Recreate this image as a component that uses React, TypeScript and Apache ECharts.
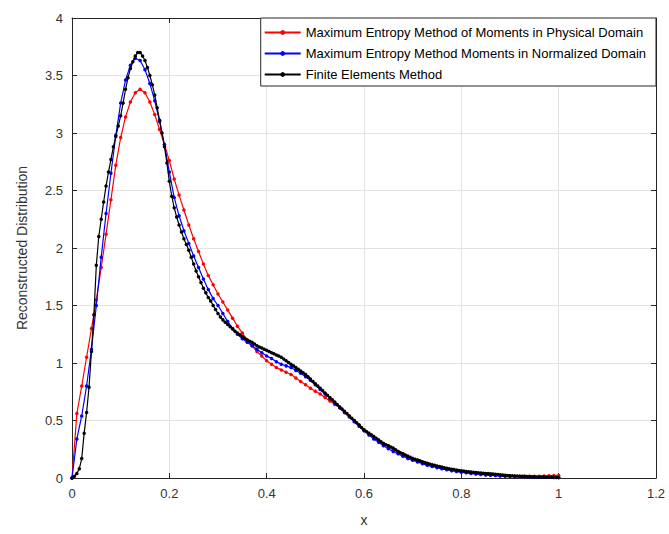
import React, { useEffect, useRef } from "react";
import * as echarts from "echarts";

// x grids
const STEP_COARSE = 0.01; // physical / normalized domain samples
const STEP_FINE = 0.005; // finite elements samples

const SERIES_NAMES = [
  "Maximum Entropy Method of Moments in Physical Domain",
  "Maximum Entropy Method Moments in Normalized Domain",
  "Finite Elements Method",
];

// Maximum Entropy Method of Moments in Physical Domain (x = 0 .. 1, step 0.01)
const RED_VALUES = [
  0, 0.56, 0.8, 1.05, 1.3, 1.55, 1.83, 2.12, 2.42, 2.72,
  2.96, 3.14, 3.27, 3.35, 3.38, 3.35, 3.27, 3.16, 3.03, 2.9,
  2.76, 2.6, 2.46, 2.33, 2.2, 2.08, 1.97, 1.86, 1.76, 1.68,
  1.6, 1.53, 1.46, 1.39, 1.32, 1.26, 1.2, 1.15, 1.1, 1.06,
  1.02, 0.99, 0.96, 0.94, 0.92, 0.9, 0.87, 0.84, 0.81, 0.78,
  0.755, 0.73, 0.7, 0.67, 0.64, 0.61, 0.57, 0.54, 0.5, 0.46,
  0.42, 0.39, 0.36, 0.33, 0.3, 0.28, 0.25, 0.23, 0.21, 0.19,
  0.17, 0.155, 0.14, 0.125, 0.11, 0.1, 0.09, 0.08, 0.07, 0.062,
  0.055, 0.049, 0.043, 0.038, 0.033, 0.029, 0.026, 0.023, 0.02, 0.018,
  0.016, 0.015, 0.014, 0.014, 0.014, 0.015, 0.016, 0.018, 0.02, 0.021,
  0.022,
];

// Maximum Entropy Method Moments in Normalized Domain (x = 0 .. 1, step 0.01)
const BLUE_VALUES = [
  0, 0.34, 0.54, 0.8, 1.12, 1.5, 1.92, 2.3, 2.65, 2.98,
  3.26, 3.46, 3.59, 3.65, 3.63, 3.55, 3.43, 3.28, 3.1, 2.9,
  2.66, 2.44, 2.28, 2.15, 2.04, 1.93, 1.83, 1.73, 1.64, 1.56,
  1.5, 1.43, 1.36, 1.3, 1.25, 1.21, 1.18, 1.15, 1.12, 1.09,
  1.06, 1.04, 1.01, 0.99, 0.975, 0.96, 0.935, 0.91, 0.88, 0.85,
  0.81, 0.77, 0.73, 0.69, 0.65, 0.61, 0.57, 0.53, 0.49, 0.45,
  0.41, 0.375, 0.34, 0.31, 0.28, 0.255, 0.23, 0.21, 0.19, 0.17,
  0.155, 0.14, 0.125, 0.11, 0.1, 0.09, 0.08, 0.072, 0.064, 0.057,
  0.05, 0.045, 0.04, 0.035, 0.031, 0.027, 0.024, 0.021, 0.018, 0.016,
  0.014, 0.012, 0.011, 0.01, 0.009, 0.008, 0.007, 0.006, 0.006, 0.005,
  0.005,
];

// Finite Elements Method (x = 0 .. 1, step 0.005)
const BLACK_VALUES = [
  0, 0.015, 0.04, 0.08, 0.17, 0.39, 0.57, 0.79, 1.1, 1.42,
  1.85, 2.1, 2.25, 2.4, 2.54, 2.66, 2.77, 2.88, 2.97, 3.06,
  3.15, 3.26, 3.38, 3.48, 3.56, 3.62, 3.67, 3.7, 3.7, 3.67,
  3.63, 3.57, 3.5, 3.42, 3.33, 3.22, 3.11, 3.0, 2.88, 2.74,
  2.58, 2.45, 2.35, 2.27, 2.2, 2.14, 2.08, 2.03, 1.98, 1.92,
  1.86, 1.8, 1.75, 1.7, 1.65, 1.61, 1.57, 1.54, 1.5, 1.465,
  1.43, 1.4, 1.375, 1.355, 1.335, 1.315, 1.295, 1.277, 1.26, 1.245,
  1.23, 1.215, 1.2, 1.19, 1.18, 1.165, 1.15, 1.14, 1.13, 1.12,
  1.11, 1.1, 1.09, 1.08, 1.07, 1.06, 1.05, 1.035, 1.02, 1.005,
  0.99, 0.975, 0.96, 0.945, 0.93, 0.915, 0.9, 0.88, 0.86, 0.84,
  0.82, 0.8, 0.78, 0.76, 0.74, 0.72, 0.7, 0.68, 0.66, 0.64,
  0.62, 0.6, 0.58, 0.56, 0.54, 0.52, 0.5, 0.48, 0.46, 0.44,
  0.42, 0.405, 0.39, 0.375, 0.36, 0.345, 0.33, 0.315, 0.3, 0.29,
  0.28, 0.27, 0.26, 0.245, 0.23, 0.22, 0.21, 0.2, 0.19, 0.18,
  0.17, 0.163, 0.156, 0.149, 0.142, 0.135, 0.128, 0.121, 0.115, 0.11,
  0.105, 0.1, 0.095, 0.09, 0.085, 0.081, 0.077, 0.073, 0.07, 0.066,
  0.063, 0.06, 0.057, 0.055, 0.052, 0.05, 0.047, 0.045, 0.043, 0.041,
  0.04, 0.038, 0.036, 0.034, 0.032, 0.03, 0.028, 0.026, 0.024, 0.022,
  0.02, 0.019, 0.018, 0.017, 0.016, 0.015, 0.014, 0.013, 0.012, 0.011,
  0.01, 0.009, 0.009, 0.008, 0.008, 0.007, 0.007, 0.006, 0.006, 0.005,
  0.005,
];

const COLORS = ["#ff0000", "#0000ff", "#000000"];

const X_MIN = 0;
const X_MAX = 1.2;
const X_INTERVAL = 0.2;
const Y_MIN = 0;
const Y_MAX = 4;
const Y_INTERVAL = 0.5;

const toPairs = (vals: number[], step: number) =>
  vals.map((v, i) => [Math.round(i * step * 1000) / 1000, v]);

const FONT = "'Liberation Sans', Arial, Helvetica, sans-serif";
const AXIS_COLOR = "#262626";

export default function App() {
  const ref = useRef<HTMLDivElement>(null);

  useEffect(() => {
    if (!ref.current) return;
    const chart = echarts.init(ref.current, null, { renderer: "svg" });

    const tickLabel = { color: "#333", fontSize: 13, fontFamily: FONT, margin: 9 };
    const baseX = {
      type: "value",
      min: X_MIN,
      max: X_MAX,
      interval: X_INTERVAL,
      axisLine: { show: true, onZero: false, lineStyle: { color: AXIS_COLOR, width: 1 } },
      axisTick: { show: true, inside: true, length: 5, lineStyle: { color: AXIS_COLOR } },
    };
    const baseY = {
      type: "value",
      min: Y_MIN,
      max: Y_MAX,
      interval: Y_INTERVAL,
      axisLine: { show: true, onZero: false, lineStyle: { color: AXIS_COLOR, width: 1 } },
      axisTick: { show: true, inside: true, length: 5, lineStyle: { color: AXIS_COLOR } },
    };

    const seriesData = [
      toPairs(RED_VALUES, STEP_COARSE),
      toPairs(BLUE_VALUES, STEP_COARSE),
      toPairs(BLACK_VALUES, STEP_FINE),
    ];

    chart.setOption({
      animation: false,
      backgroundColor: "#ffffff",
      textStyle: { fontFamily: FONT },
      grid: { left: 72, right: 13, top: 18, bottom: 56 },
      legend: {
        data: SERIES_NAMES,
        orient: "vertical",
        right: 13,
        top: 18,
        backgroundColor: "#ffffff",
        borderColor: AXIS_COLOR,
        borderWidth: 1,
        borderRadius: 0,
        padding: [8, 10, 5, 3],
        itemWidth: 36,
        itemHeight: 6,
        itemGap: 8,
        textStyle: { fontSize: 13, color: "#000", fontFamily: FONT },
        z: 10,
      },
      xAxis: [
        {
          ...baseX,
          position: "bottom",
          name: "x",
          nameLocation: "middle",
          nameGap: 35,
          nameTextStyle: { fontSize: 14, color: "#333", fontFamily: FONT },
          axisLabel: tickLabel,
          splitLine: { show: true, lineStyle: { color: "#e3e3e3", width: 1 } },
        },
        {
          ...baseX,
          position: "top",
          axisLabel: { show: false },
          splitLine: { show: false },
        },
      ],
      yAxis: [
        {
          ...baseY,
          position: "left",
          name: "Reconstructed Distribution",
          nameLocation: "middle",
          nameGap: 43,
          nameTextStyle: { fontSize: 14, color: "#333", fontFamily: FONT },
          axisLabel: tickLabel,
          splitLine: { show: true, lineStyle: { color: "#e3e3e3", width: 1 } },
        },
        {
          ...baseY,
          position: "right",
          axisLabel: { show: false },
          splitLine: { show: false },
        },
      ],
      series: SERIES_NAMES.map((name, i) => ({
        name,
        type: "line",
        xAxisIndex: 0,
        yAxisIndex: 0,
        data: seriesData[i],
        showSymbol: true,
        symbol: "circle",
        symbolSize: 3.5,
        lineStyle: { color: COLORS[i], width: 1.2 },
        itemStyle: { color: COLORS[i] },
        z: 2 + i,
        emphasis: { disabled: true },
      })),
    });

    return () => chart.dispose();
  }, []);

  return (
    <div
      ref={ref}
      style={{ position: "fixed", left: 0, top: 0, width: 669, height: 534 }}
    />
  );
}
